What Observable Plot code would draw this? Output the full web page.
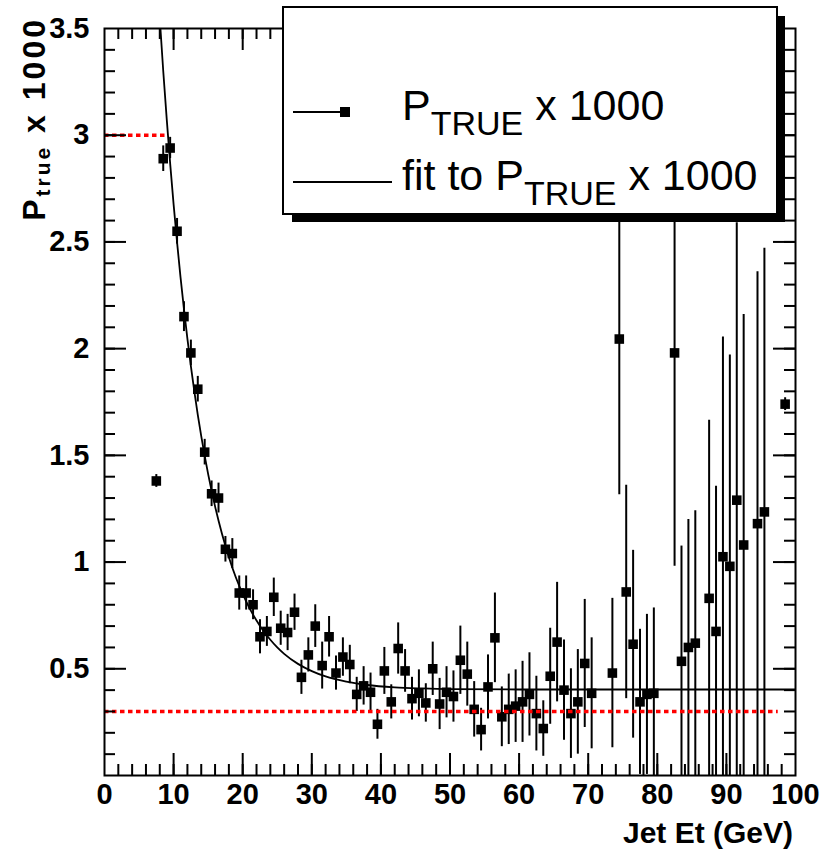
<!DOCTYPE html>
<html>
<head>
<meta charset="utf-8">
<script src="https://cdn.jsdelivr.net/npm/d3@7"></script>
<script src="https://cdn.jsdelivr.net/npm/@observablehq/plot@0.6"></script>
<style>
  html, body { margin: 0; padding: 0; background: #fff; }
  #chart { width: 837px; height: 851px; }
</style>
</head>
<body>
<div id="chart"></div>
<script>
// ---- data ----
const binCenters = [7.5, 8.5, 9.5, 10.5, 11.5, 12.5, 13.5, 14.5, 15.5, 16.5, 17.5, 18.5, 19.5, 20.5, 21.5, 22.5, 23.5, 24.5, 25.5, 26.5, 27.5, 28.5, 29.5, 30.5, 31.5, 32.5, 33.5, 34.5, 35.5, 36.5, 37.5, 38.5, 39.5, 40.5, 41.5, 42.5, 43.5, 44.5, 45.5, 46.5, 47.5, 48.5, 49.5, 50.5, 51.5, 52.5, 53.5, 54.5, 55.5, 56.5, 57.5, 58.5, 59.5, 60.5, 61.5, 62.5, 63.5, 64.5, 65.5, 66.5, 67.5, 68.5, 69.5, 70.5, 73.5, 74.5, 75.5, 76.5, 77.5, 78.5, 79.5, 82.5, 83.5, 84.5, 85.5, 87.5, 88.5, 89.5, 90.5, 91.5, 92.5, 94.5, 95.5, 98.5];
const pTrue = [1.38, 2.89, 2.94, 2.55, 2.15, 1.98, 1.81, 1.515, 1.32, 1.30, 1.06, 1.04, 0.855, 0.855, 0.80, 0.65, 0.675, 0.835, 0.69, 0.67, 0.765, 0.46, 0.565, 0.70, 0.515, 0.65, 0.48, 0.555, 0.52, 0.38, 0.42, 0.39, 0.24, 0.49, 0.345, 0.595, 0.49, 0.36, 0.385, 0.34, 0.50, 0.335, 0.39, 0.37, 0.54, 0.475, 0.31, 0.215, 0.415, 0.645, 0.275, 0.31, 0.325, 0.345, 0.38, 0.29, 0.22, 0.465, 0.625, 0.40, 0.29, 0.345, 0.525, 0.385, 0.48, 2.045, 0.86, 0.615, 0.345, 0.38, 0.385, 1.98, 0.535, 0.60, 0.62, 0.83, 0.675, 1.025, 0.98, 1.29, 1.08, 1.18, 1.235, 1.74];
const pTrueErr = [0.03, 0.06, 0.05, 0.06, 0.07, 0.06, 0.06, 0.06, 0.06, 0.07, 0.06, 0.07, 0.08, 0.08, 0.07, 0.08, 0.07, 0.09, 0.08, 0.085, 0.085, 0.08, 0.08, 0.10, 0.11, 0.095, 0.08, 0.09, 0.09, 0.08, 0.09, 0.09, 0.07, 0.11, 0.08, 0.12, 0.10, 0.10, 0.11, 0.09, 0.125, 0.12, 0.12, 0.12, 0.16, 0.15, 0.13, 0.10, 0.15, 0.21, 0.14, 0.165, 0.17, 0.19, 0.195, 0.175, 0.13, 0.225, 0.28, 0.235, 0.21, 0.245, 0.30, 0.26, 0.35, 0.73, 0.50, 0.44, 0.34, 0.375, 0.40, 1.0, 0.54, 0.60, 0.62, 0.835, 0.68, 1.03, 0.99, 1.30, 1.08, 1.18, 1.235, 0.03];

// fit curve
const fitX = [8, 8.5, 9, 9.5, 10, 10.5, 11, 11.5, 12, 12.5, 13, 13.5, 14, 14.5, 15, 16, 17, 18, 19, 20, 21, 22, 23, 24, 25, 26, 28, 30, 32, 35, 38, 42, 46, 50, 60, 100];
const fitY = [3.546, 3.301, 3.078, 2.868, 2.676, 2.499, 2.335, 2.185, 2.046, 1.918, 1.800, 1.690, 1.590, 1.498, 1.412, 1.261, 1.133, 1.023, 0.929, 0.851, 0.783, 0.726, 0.677, 0.636, 0.600, 0.570, 0.523, 0.489, 0.464, 0.440, 0.424, 0.413, 0.408, 0.405, 0.403, 0.403];

// red dotted reference lines
const refY = [3.0, 0.3];
const refXEnd = [8.8, 97.5];

// axis ticks
const xTickLabels = [0, 10, 20, 30, 40, 50, 60, 70, 80, 90, 100];
const yTickLabels = [0.5, 1, 1.5, 2, 2.5, 3, 3.5];
const xMinorTicks = d3.range(2, 100, 2);
const xMajorTicks = d3.range(10, 100, 10);
const yMinorTicks = d3.range(1, 35).map(i => i / 10);
const yMajorTicks = [0.5, 1, 1.5, 2, 2.5, 3];

// ---- build tables ----
const points = binCenters.map((x, i) => ({x, y: pTrue[i], e: pTrueErr[i]}));
const fit = fitX.map((x, i) => ({x, y: fitY[i]}));
const refLines = refY.map((y, i) => ({y, x1: 0, x2: refXEnd[i]}));

const W = 837, H = 851;
const mL = 104, mR = 42, mT = 28, mB = 76;
const FW = W - mL - mR, FH = H - mT - mB;
const font = "'Liberation Sans', Arial, Helvetica, sans-serif";

const chart = Plot.plot({
  width: W, height: H,
  marginLeft: mL, marginRight: mR, marginTop: mT, marginBottom: mB,
  x: {domain: [0, 100]},
  y: {domain: [0, 3.5]},
  style: {fontFamily: font, fontSize: "29px", fontWeight: "bold", background: "white", color: "black"},
  marks: [
    // error bars & markers
    Plot.ruleX(points, {x: "x", y1: d => d.y - d.e, y2: d => d.y + d.e, stroke: "black", strokeWidth: 2, clip: true}),
    Plot.dot(points, {x: "x", y: "y", symbol: "square", r: 5.4, fill: "black"}),
    // fit
    Plot.line(fit, {x: "x", y: "y", curve: "monotone-x", stroke: "black", strokeWidth: 1.8, clip: true}),
    // red dotted lines
    Plot.ruleY(refLines, {y: "y", x1: "x1", x2: "x2", stroke: "#ff0000", strokeWidth: 3.5, strokeDasharray: "4.5,3.5"}),
    // inward ticks, bottom / top
    Plot.ruleX(xMinorTicks, {x: d => d, insetTop: FH - 11, stroke: "black", strokeWidth: 2}),
    Plot.ruleX(xMajorTicks, {x: d => d, insetTop: FH - 22, stroke: "black", strokeWidth: 2}),
    Plot.ruleX(xMinorTicks, {x: d => d, insetBottom: FH - 11, stroke: "black", strokeWidth: 2}),
    Plot.ruleX(xMajorTicks, {x: d => d, insetBottom: FH - 22, stroke: "black", strokeWidth: 2}),
    // inward ticks, left / right
    Plot.ruleY(yMinorTicks, {y: d => d, insetRight: FW - 11, stroke: "black", strokeWidth: 2}),
    Plot.ruleY(yMajorTicks, {y: d => d, insetRight: FW - 22, stroke: "black", strokeWidth: 2}),
    Plot.ruleY(yMinorTicks, {y: d => d, insetLeft: FW - 11, stroke: "black", strokeWidth: 2}),
    Plot.ruleY(yMajorTicks, {y: d => d, insetLeft: FW - 22, stroke: "black", strokeWidth: 2}),
    // tick labels
    Plot.axisX(xTickLabels, {tickSize: 0, tickPadding: 8, label: null, tickFormat: d => String(d)}),
    Plot.axisY(yTickLabels, {tickSize: 0, tickPadding: 15, label: null, tickFormat: d => String(d)}),
    Plot.frame({stroke: "black", strokeWidth: 2})
  ]
});
document.getElementById("chart").appendChild(chart);

// ---- titles & legend (added to the same SVG) ----
const svg = d3.select(chart);

// x title
svg.append("text")
  .attr("x", 793).attr("y", 843)
  .attr("text-anchor", "end")
  .attr("font-family", font).attr("font-size", 30).attr("font-weight", "bold")
  .text("Jet Et (GeV)");

// y title
const yt = svg.append("text")
  .attr("transform", "translate(45,17) rotate(-90)")
  .attr("text-anchor", "end")
  .attr("font-family", font).attr("font-size", 32).attr("font-weight", "bold")
  .attr("letter-spacing", 3);
yt.append("tspan").text("P");
yt.append("tspan").attr("dy", 5).attr("font-size", 21).text("true");
yt.append("tspan").attr("dy", -5).text(" x 1000");

// legend
const lg = svg.append("g");
lg.append("rect").attr("x", 292).attr("y", 16).attr("width", 493).attr("height", 206).attr("fill", "black");
lg.append("rect").attr("x", 283).attr("y", 7).attr("width", 494).attr("height", 207)
  .attr("fill", "white").attr("stroke", "black").attr("stroke-width", 2);

const rows = [
  {y: 112, pre: "", marker: true, x2: 345},
  {y: 182, pre: "fit to ", marker: false, x2: 392}
];
rows.forEach(r => {
  lg.append("line").attr("x1", 293).attr("x2", r.x2).attr("y1", r.y).attr("y2", r.y)
    .attr("stroke", "black").attr("stroke-width", 2);
  if (r.marker) {
    lg.append("rect").attr("x", 340).attr("y", r.y - 5).attr("width", 10).attr("height", 10).attr("fill", "black");
  }
  const t = lg.append("text")
    .attr("x", 402).attr("y", r.y + 8)
    .attr("text-anchor", "start")
    .attr("font-family", font).attr("font-size", 43).attr("font-weight", "normal");
  t.append("tspan").text(r.pre + "P");
  t.append("tspan").attr("dy", 15).attr("font-size", 34).text("TRUE");
  t.append("tspan").attr("dy", -15).text(" x 1000");
});
</script>
</body>
</html>
